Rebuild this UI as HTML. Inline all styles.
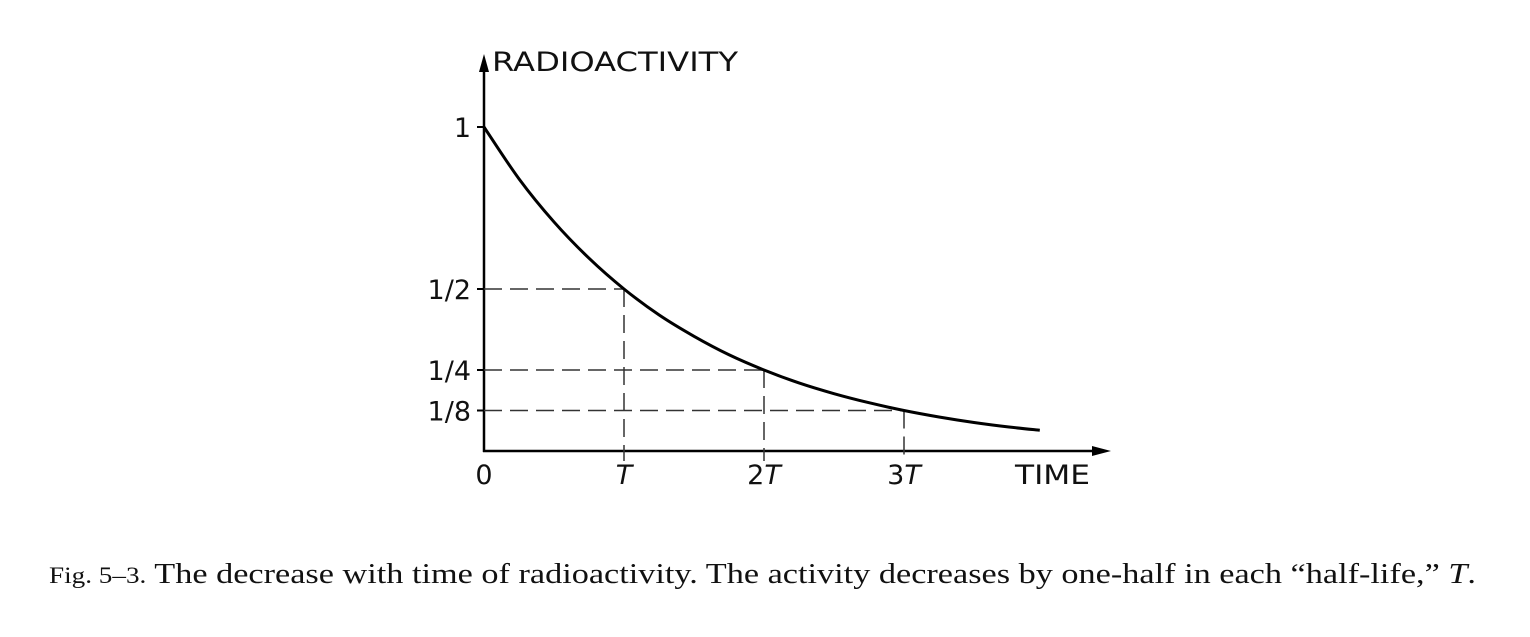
<!DOCTYPE html>
<html><head><meta charset="utf-8"><style>
body{margin:0;background:#fff;width:1530px;height:632px;overflow:hidden}
svg text{font-family:"DejaVu Sans","Liberation Sans",sans-serif;fill:#111}
</style></head><body>
<svg width="1530" height="632">
<g id="g"></g>
<text x="49" y="583" textLength="1427" lengthAdjust="spacingAndGlyphs" style="font-family:'Liberation Serif',serif;font-size:29px"><tspan style="font-size:23px">Fig. 5–3.</tspan>  The decrease with time of radioactivity. The activity decreases by one-half in each “half-life,” <tspan font-style="italic">T</tspan>.</text>
</svg>
<script>
const times=[0,0.25,0.5,0.75,1,1.25,1.5,1.75,2,2.25,2.5,2.75,3,3.25,3.5,3.75,3.97];
const activity=[1,0.84,0.707,0.595,0.5,0.42,0.354,0.297,0.25,0.21,0.177,0.149,0.125,0.105,0.088,0.074,0.064];
const yTicks=[1,0.5,0.25,0.125];
const yTickLabels=["1","1/2","1/4","1/8"];
const xTicks=[1,2,3];
const xTickLabels=["T","2T","3T"];
const x0=484,y0=451,sx=140,sy=324;
const X=t=>x0+t*sx, Y=v=>y0-v*sy;
const NS="http://www.w3.org/2000/svg";
const g=document.getElementById('g');
function mk(tag,attrs,parent){const e=document.createElementNS(NS,tag);for(const k in attrs)e.setAttribute(k,attrs[k]);(parent||g).appendChild(e);return e;}
let ya=mk('line',{x1:x0,y1:y0+1,x2:x0,y2:68,stroke:'#000','stroke-width':2.5});


let yh=mk('path',{d:`M${x0-5},72 L${x0},54 L${x0+5},72 Z`,fill:'#000'});


let xa=mk('line',{x1:x0-1,y1:y0,x2:1095,y2:y0,stroke:'#000','stroke-width':2.5});


let xh=mk('path',{d:`M1092,${y0-5} L1111,${y0} L1092,${y0+5} Z`,fill:'#000'});


let yt=mk('text',{x:492,y:71,'font-size':27,textLength:246,lengthAdjust:'spacingAndGlyphs'});yt.textContent='RADIOACTIVITY';


let xt=mk('text',{x:1015,y:484,'font-size':27,textLength:75,lengthAdjust:'spacingAndGlyphs'});xt.textContent='TIME';


let z=mk('text',{x:x0,y:484,'font-size':27,'text-anchor':'middle'});z.textContent='0';


yTicks.forEach((v,i)=>{
 const tk=mk('line',{x1:x0-7,x2:x0,y1:Y(v),y2:Y(v),stroke:'#000','stroke-width':2});
 
 
 const t=mk('text',{x:471,y:Y(v)+10,'font-size':27,'text-anchor':'end'});t.textContent=yTickLabels[i];
 
 
});
xTicks.forEach((tv,i)=>{
 const v=activity[times.indexOf(tv)];
 const h=mk('line',{x1:x0,x2:X(tv),y1:Y(v),y2:Y(v),stroke:'#333','stroke-width':1.5,'stroke-dasharray':'18 8'});
 
 
 const vl=mk('line',{x1:X(tv),x2:X(tv),y1:Y(v),y2:y0+10,stroke:'#333','stroke-width':1.5,'stroke-dasharray':'18 8'});
 
 
 const t=mk('text',{x:X(tv),y:484,'font-size':27,'text-anchor':'middle'});
 const lab=xTickLabels[i];
 if(lab.length>1){const a=mk('tspan',{},t);a.textContent=lab.slice(0,-1);}
 const b=mk('tspan',{'font-style':'italic'},t);b.textContent='T';
 
 
});
const P=times.map((t,i)=>[X(t),Y(activity[i])]);
let d=`M${P[0][0]},${P[0][1]}`;
for(let i=0;i<P.length-1;i++){
 const p0=P[Math.max(0,i-1)],p1=P[i],p2=P[i+1],p3=P[Math.min(P.length-1,i+2)];
 d+=` C${p1[0]+(p2[0]-p0[0])/6},${p1[1]+(p2[1]-p0[1])/6} ${p2[0]-(p3[0]-p1[0])/6},${p2[1]-(p3[1]-p1[1])/6} ${p2[0]},${p2[1]}`;
}
const c=mk('path',{d:d,fill:'none',stroke:'#000','stroke-width':3});


</script>
</body></html>
